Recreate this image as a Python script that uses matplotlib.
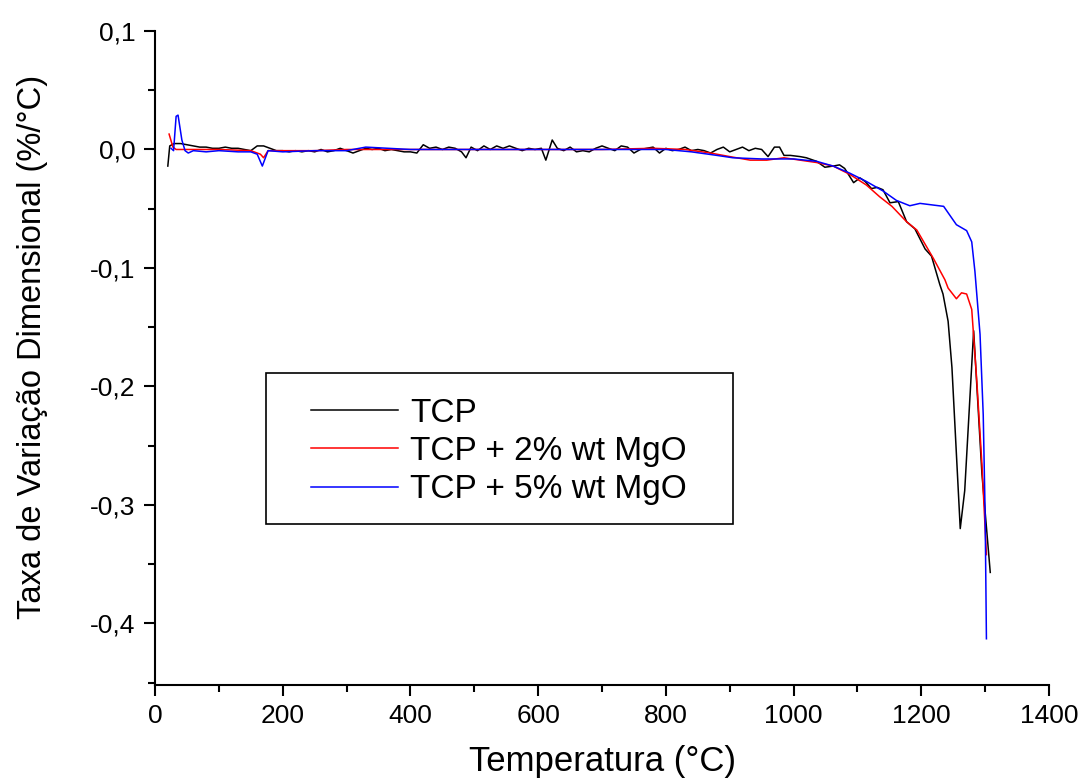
import matplotlib
matplotlib.use("Agg")
import matplotlib.pyplot as plt
from matplotlib.ticker import MultipleLocator, FuncFormatter
from matplotlib.patches import Rectangle

plt.rcParams['font.family'] = ['Liberation Sans', 'DejaVu Sans']

# TCP
t_tcp = [20, 23, 30, 40, 50, 60, 70, 80, 90, 100, 110, 120, 130, 140, 150, 160, 170, 180,
         190, 200, 210, 220, 230, 240, 250, 260, 270, 280, 290, 300, 310, 320, 330, 340,
         350, 360, 370, 380, 390, 400, 410, 420, 430, 440, 450, 460, 470, 480, 487, 495,
         505, 515, 525, 535, 545, 555, 565, 575, 585, 595, 605, 612, 622, 630, 640, 650,
         660, 670, 680, 690, 700, 710, 720, 730, 740, 750, 760, 770, 780, 790, 800, 810,
         820, 830, 840, 850, 860, 870, 880, 890, 900, 910, 920, 930, 940, 950, 960, 970,
         978, 985, 995, 1010, 1020, 1036, 1049, 1062, 1072, 1080, 1094, 1104, 1112, 1122,
         1131, 1140, 1151, 1164, 1177, 1190, 1206, 1216, 1229, 1234, 1242, 1248, 1261,
         1268, 1282, 1295, 1308]
v_tcp = [-0.014, 0.003, 0.005, 0.005, 0.004, 0.003, 0.002, 0.002, 0.001, 0.001, 0.002,
         0.001, 0.001, 0.000, -0.001, 0.003, 0.003, 0.001, -0.001, -0.001, -0.002, -0.001,
         -0.002, -0.001, -0.002, 0.000, -0.002, -0.001, 0.001, -0.001, -0.003, -0.001,
         0.001, 0.000, 0.001, -0.001, 0.000, -0.001, -0.002, -0.002, -0.003, 0.004, 0.001,
         0.002, 0.000, 0.002, 0.001, -0.002, -0.007, 0.002, -0.001, 0.003, 0.000, 0.003,
         0.001, 0.003, 0.001, -0.001, 0.001, 0.000, 0.001, -0.009, 0.008, 0.001, -0.001,
         0.002, -0.002, -0.001, -0.002, 0.001, 0.003, 0.001, -0.001, 0.003, 0.002, -0.003,
         0.000, 0.001, 0.002, -0.003, 0.001, -0.001, 0.000, 0.002, -0.001, 0.000, -0.001,
         -0.003, 0.000, 0.002, -0.002, 0.000, 0.002, -0.001, 0.001, 0.000, -0.006, 0.002,
         0.002, -0.005, -0.005, -0.006, -0.007, -0.010, -0.015, -0.014, -0.013, -0.016,
         -0.028, -0.024, -0.027, -0.033, -0.032, -0.034, -0.045, -0.044, -0.061, -0.067,
         -0.084, -0.090, -0.114, -0.122, -0.145, -0.184, -0.320, -0.288, -0.153, -0.274,
         -0.357]

# TCP + 2% wt MgO
t_mg2 = [22, 28, 33, 50, 100, 150, 165, 170, 177, 200, 250, 300, 400, 500, 600, 700, 780,
         830, 870, 900, 932, 958, 985, 1010, 1036, 1062, 1088, 1114, 1135, 1154, 1177,
         1193, 1219, 1237, 1242, 1255, 1263, 1271, 1279, 1287, 1295, 1302]
v_mg2 = [0.013, 0.002, 0.000, 0.000, 0.000, -0.001, -0.004, -0.007, -0.001, -0.001,
         -0.001, 0.000, 0.000, 0.000, 0.000, 0.000, 0.001, 0.000, -0.003, -0.006, -0.009,
         -0.009, -0.007, -0.009, -0.011, -0.014, -0.021, -0.030, -0.040, -0.048, -0.061,
         -0.068, -0.092, -0.110, -0.117, -0.126, -0.121, -0.122, -0.135, -0.196, -0.266,
         -0.342]

# TCP + 5% wt MgO
t_mg5 = [25, 29, 33, 36, 42, 47, 52, 60, 80, 100, 130, 150, 160, 168, 177, 200, 250, 300,
         330, 400, 500, 600, 700, 800, 840, 880, 905, 950, 1000, 1036, 1062, 1088, 1114,
         1140, 1161, 1182, 1198, 1220, 1235, 1255, 1271, 1279, 1284, 1292, 1297, 1300, 1302]
v_mg5 = [0.001, -0.001, 0.028, 0.029, 0.008, -0.001, -0.003, -0.001, -0.002, -0.001,
         -0.002, -0.002, -0.004, -0.014, -0.001, -0.002, -0.001, -0.001, 0.002, 0.000,
         0.000, 0.000, 0.000, 0.000, -0.002, -0.005, -0.007, -0.008, -0.008, -0.010,
         -0.014, -0.020, -0.027, -0.035, -0.043, -0.0475, -0.0455, -0.047, -0.048, -0.0635,
         -0.0685, -0.078, -0.103, -0.156, -0.224, -0.308, -0.413]

labels = ['TCP', 'TCP + 2% wt MgO', 'TCP + 5% wt MgO']

fig = plt.figure(figsize=(10.82, 7.83), dpi=100)
ax = fig.add_axes([0.1433, 0.1252, 0.8262, 0.8352])

l1, = ax.plot(t_tcp, v_tcp, color='black', lw=1.1)
l2, = ax.plot(t_mg2, v_mg2, color='red', lw=1.1)
l3, = ax.plot(t_mg5, v_mg5, color='blue', lw=1.1)

ax.set_xlim(0, 1400)
ax.set_ylim(-0.452, 0.1)
ax.xaxis.set_major_locator(MultipleLocator(200))
ax.xaxis.set_minor_locator(MultipleLocator(100))
ax.yaxis.set_major_locator(MultipleLocator(0.1))
ax.yaxis.set_minor_locator(MultipleLocator(0.05))
ax.yaxis.set_major_formatter(FuncFormatter(lambda v, p: ('%.1f' % v).replace('.', ',').replace('-0,0', '0,0')))

for s in ['top', 'right']:
    ax.spines[s].set_visible(False)
for s in ['left', 'bottom']:
    ax.spines[s].set_linewidth(1.5)
ax.tick_params(which='major', direction='out', length=8, width=1.5, labelsize=19, pad=6)
ax.tick_params(which='minor', direction='out', length=5, width=1.5)

ax.set_xlabel('Temperatura (°C)', fontsize=25, labelpad=12)
ax.set_ylabel('Taxa de Variação Dimensional (%/°C)', fontsize=23.5, labelpad=30)
ax.yaxis.label.set_y(0.517)

# legend frame
ax.add_patch(Rectangle((0.124, 0.246), 0.5225, 0.231, transform=ax.transAxes,
                       fill=False, edgecolor='black', lw=1.2))
ax.legend([l1, l2, l3], labels, frameon=False, fontsize=24, loc='center left',
          bbox_to_anchor=(0.175, 0.357), borderpad=0, borderaxespad=0,
          handlelength=2.6, handletextpad=0.35, labelspacing=0.22)

fig.savefig('out.png', dpi=100)
